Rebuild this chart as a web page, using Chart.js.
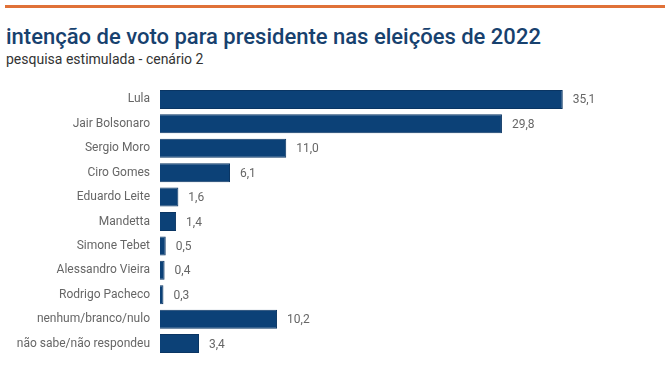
<!DOCTYPE html>
<html>
<head>
<meta charset="utf-8">
<script src="https://cdn.jsdelivr.net/npm/chart.js@4"></script>
<style>
  html, body { margin: 0; padding: 0; background: #fff; width: 671px; height: 373px; overflow: hidden; }
  #bar { position: absolute; left: 5px; top: 5px; width: 660px; height: 3px; background: #e07138; }
  #title { position: absolute; left: 6px; top: 24px; font-family: Roboto, sans-serif; font-size: 22px; font-weight: 500; color: #17416e; white-space: nowrap; }
  #sub { position: absolute; left: 6px; top: 51px; font-family: Roboto, sans-serif; font-size: 14px; color: #333; white-space: nowrap; }
  #c { position: absolute; left: 0; top: 70px; }
</style>
</head>
<body>
<div id="bar"></div>
<div id="title">intenção de voto para presidente nas eleições de 2022</div>
<div id="sub">pesquisa estimulada - cenário 2</div>
<canvas id="c" width="671" height="303" style="width:671px;height:303px"></canvas>
<script>
const categories = ["Lula", "Jair Bolsonaro", "Sergio Moro", "Ciro Gomes", "Eduardo Leite", "Mandetta", "Simone Tebet", "Alessandro Vieira", "Rodrigo Pacheco", "nenhum/branco/nulo", "não sabe/não respondeu"];
const values = [35.1, 29.8, 11.0, 6.1, 1.6, 1.4, 0.5, 0.4, 0.3, 10.2, 3.4];

const labelPlugin = {
  id: 'vals',
  afterDatasetsDraw(chart) {
    const ctx = chart.ctx;
    const meta = chart.getDatasetMeta(0);
    ctx.save();
    ctx.font = '12px Roboto, sans-serif';
    ctx.fillStyle = '#666';
    ctx.textAlign = 'left';
    ctx.textBaseline = 'middle';
    meta.data.forEach((el, i) => {
      ctx.fillText(values[i].toFixed(1).replace('.', ','), el.x + 10, el.y + 1);
    });
    ctx.restore();
  }
};

new Chart(document.getElementById('c'), {
  type: 'bar',
  data: {
    labels: categories,
    datasets: [{
      data: values,
      backgroundColor: '#0c4177',
      borderColor: '#0a3563',
      borderWidth: 1,
      barPercentage: 0.78,
      categoryPercentage: 1.0
    }]
  },
  options: {
    indexAxis: 'y',
    responsive: false,
    animation: false,
    layout: { padding: { top: 4, bottom: 3, right: 52, left: 0 } },
    plugins: { legend: { display: false }, tooltip: { enabled: false } },
    scales: {
      x: { display: false, min: 0, max: 40 },
      y: {
        grid: { display: false, drawTicks: false },
        border: { display: false },
        ticks: { color: '#666', font: { family: 'Roboto', size: 12 }, padding: 10 },
        afterFit(scale) { scale.width = 160; }
      }
    }
  },
  plugins: [labelPlugin]
});
</script>
</body>
</html>
